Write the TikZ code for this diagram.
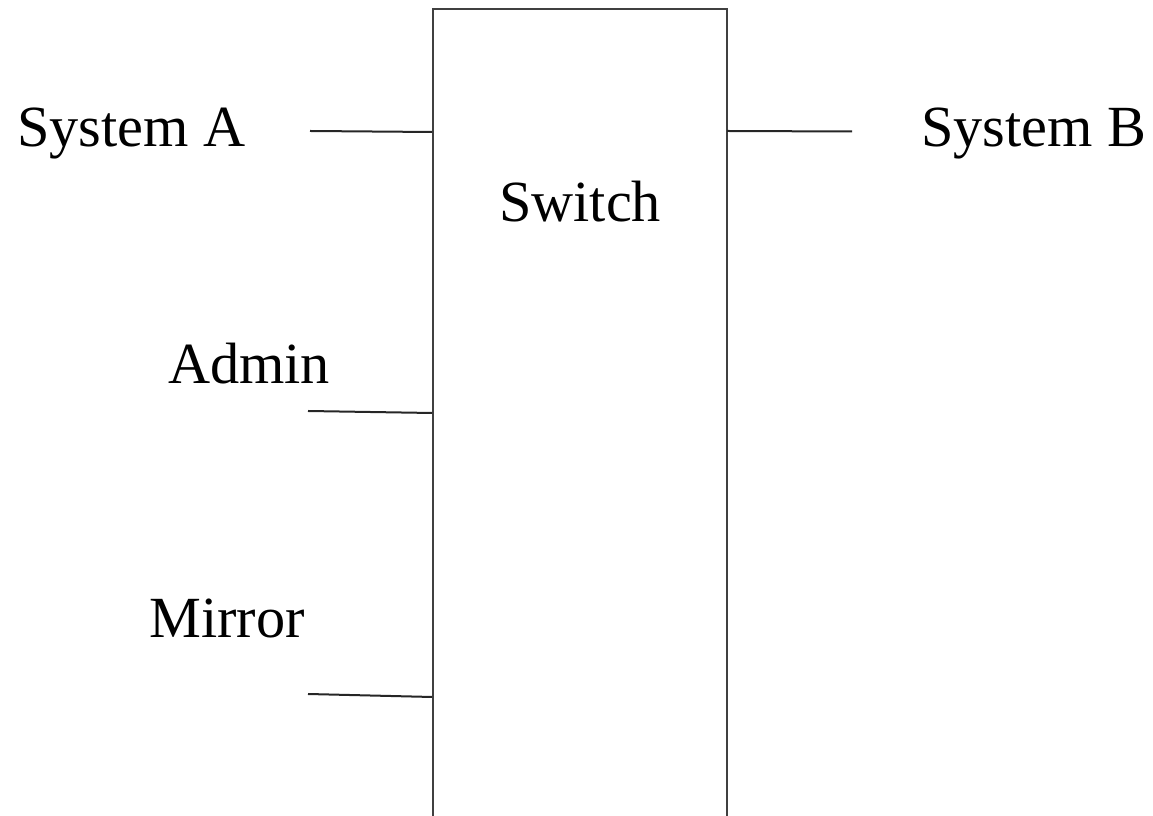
\documentclass[tikz,border=0pt]{standalone}
\usepackage{fontspec}
\setmainfont{Liberation Serif}
\begin{document}
\begin{tikzpicture}[x=1bp,y=1bp,
  lbl/.style={anchor=base west, inner sep=0pt, font=\fontsize{58.5}{64}\selectfont},
  wire/.style={line width=2bp, black!85},
  box/.style={draw, line width=2.2bp, black!75, anchor=north west, inner sep=0pt, minimum width=294bp, minimum height=808bp}]
\useasboundingbox (0,0) rectangle (1153,816);
\clip (0,0) rectangle (1153,816);
\node[box] (sw) at (432,808) {};
\node[lbl] (sa) at (17,669) {System A};
\node[lbl] (sb) at (921,669) {System B};
\node[lbl] (swl) at (499,594) {Switch};
\node[lbl] (ad) at (168,432) {Admin};
\node[lbl] (mi) at (149,178) {Mirror};
\coordinate (a1) at (310,685);
\coordinate (a2) at (432,684);
\coordinate (b1) at (727,685);
\coordinate (b2) at (852,684.5);
\coordinate (c1) at (308,405);
\coordinate (c2) at (432,403);
\coordinate (d1) at (308,122);
\coordinate (d2) at (432,119);
\draw[wire] (a1) -- (a2);
\draw[wire] (b1) -- (b2);
\draw[wire] (c1) -- (c2);
\draw[wire] (d1) -- (d2);
\end{tikzpicture}
\end{document}
